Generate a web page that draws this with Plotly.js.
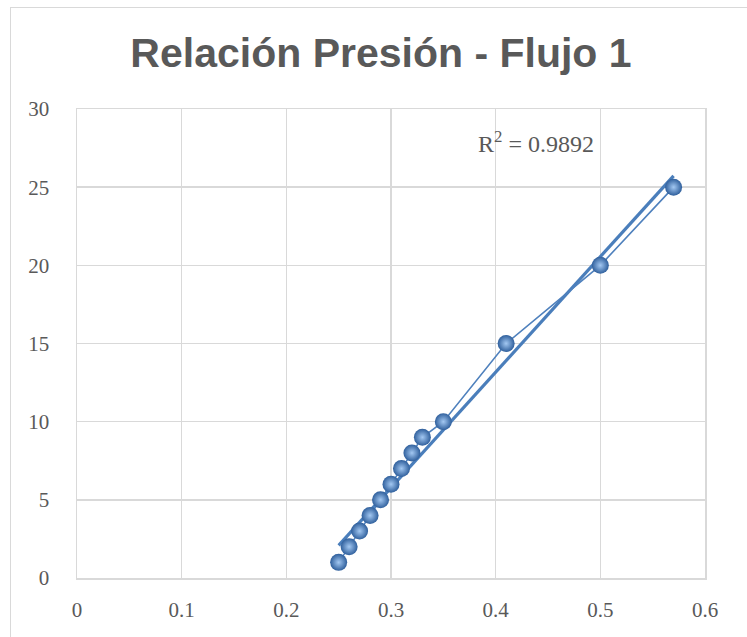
<!DOCTYPE html>
<html>
<head>
<meta charset="utf-8">
<script src="https://cdn.plot.ly/plotly-3.0.1.min.js"></script>
<style>
html,body{margin:0;padding:0;background:#fff;overflow:hidden;}
#frame{position:absolute;left:10px;top:7px;width:800px;height:700px;border:1.5px solid #d9d9d9;box-sizing:border-box;}
#chart{position:absolute;left:0;top:0;width:747px;height:637px;}
</style>
</head>
<body>
<div id="frame"></div>
<div id="chart"></div>
<script>
const flujo = [0.25, 0.26, 0.27, 0.28, 0.29, 0.30, 0.31, 0.32, 0.33, 0.35, 0.41, 0.50, 0.57];
const presion = [1, 2, 3, 4, 5, 6, 7, 8, 9, 10, 15, 20, 25];
const xTicks = [0, 0.1, 0.2, 0.3, 0.4, 0.5, 0.6];
const yTicks = [0, 5, 10, 15, 20, 25, 30];
const r2Label = 'R<sup>2</sup> = 0.9892';
const chartTitle = 'Relación Presión - Flujo 1';

// linear least-squares trendline
const n = flujo.length;
const mx = flujo.reduce((a,b)=>a+b,0)/n;
const my = presion.reduce((a,b)=>a+b,0)/n;
let sxy=0, sxx=0;
for (let i=0;i<n;i++){ sxy += (flujo[i]-mx)*(presion[i]-my); sxx += (flujo[i]-mx)**2; }
const slope = sxy/sxx, icpt = my - slope*mx;
const tx = [Math.min(...flujo), Math.max(...flujo)];
const ty = tx.map(v => icpt + slope*v);

const blue = '#4f81bd';
const traces = [
  {x: tx, y: ty, mode:'lines', line:{color:'#4a7ebb', width:3.2}, hoverinfo:'skip'},
  {x: flujo, y: presion, mode:'lines+markers',
   line:{color:blue, width:1.6},
   marker:{size:17, color:'#2f5f9c', line:{width:0},
     gradient:{type:'radial', color:'#a3c8f2'}}}
];

const tickFont = {family:'Liberation Serif, DejaVu Serif, serif', size:21, color:'#595959'};
const layout = {
  width:747, height:637,
  paper_bgcolor:'rgba(0,0,0,0)', plot_bgcolor:'#fff',
  showlegend:false,
  margin:{l:77, r:42, t:109, b:59},
  title:{text:'<b>'+chartTitle+'</b>', x:0.51, xanchor:'center', y:0.918, yanchor:'middle',
    font:{family:'Liberation Sans, Arial, sans-serif', size:41, color:'#595959'}},
  xaxis:{range:[0,0.6], tickvals:xTicks, ticktext:xTicks.map(String), showgrid:true,
    gridcolor:'#d9d9d9', gridwidth:1.5, zeroline:false, showline:true, linecolor:'#d9d9d9', linewidth:1.5,
    mirror:true, ticks:'', tickfont:tickFont, ticklabelstandoff:12},
  yaxis:{range:[0,30], tickvals:yTicks, showgrid:true, gridcolor:'#d9d9d9', gridwidth:1.5,
    zeroline:false, showline:true, linecolor:'#d9d9d9', linewidth:1.5, mirror:true, ticks:'',
    tickfont:tickFont, ticklabelstandoff:22},
  annotations:[{x:0.439, y:27.9, xref:'x', yref:'y', text:r2Label, showarrow:false,
    font:{family:'Liberation Serif, DejaVu Serif, serif', size:24, color:'#595959'}}]
};
Plotly.newPlot('chart', traces, layout, {displayModeBar:false, staticPlot:true});
</script>
</body>
</html>
